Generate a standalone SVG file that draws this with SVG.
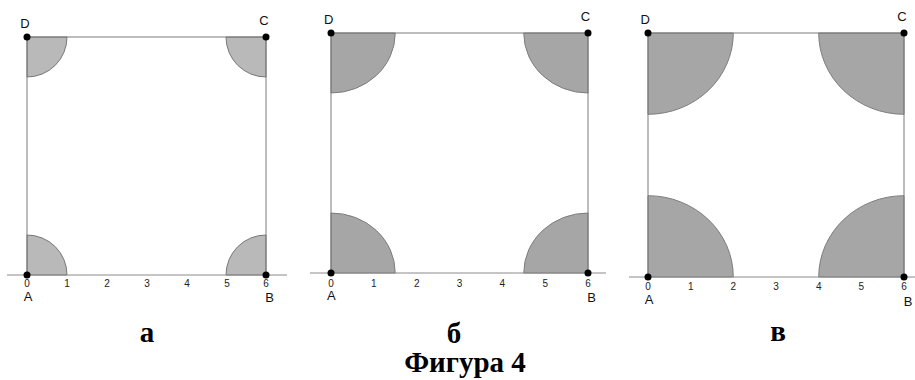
<svg xmlns="http://www.w3.org/2000/svg" width="915" height="380" viewBox="0 0 915 380">
<style>
.bg{fill:#ffffff}
.side{fill:none;stroke:#7a7a7a;stroke-width:1}
.axis{fill:none;stroke:#8a8a8a;stroke-width:1}
.secA{fill:#b9b9b9;stroke:#777777;stroke-width:1}
.sec{fill:#a6a6a6;stroke:#7d7d7d;stroke-width:1}
.pt{fill:#000000}
.tick{font-family:"Liberation Sans",Arial,sans-serif;font-size:10px;fill:#222;text-anchor:middle}
.lbl{font-family:"Liberation Sans",Arial,sans-serif;font-size:13px;fill:#111;text-anchor:middle}
.cap{font-family:"Liberation Serif","Times New Roman",serif;font-weight:bold;font-size:29px;fill:#000;text-anchor:middle}
</style>
<rect class="bg" x="0" y="0" width="915" height="380"/>

<g id="fig-a">
  <path class="secA" d="M27,37 L67,37 A40,40 0 0 1 27,77 Z"/>
  <path class="secA" d="M266,37 L266,77 A40,40 0 0 1 226,37 Z"/>
  <path class="secA" d="M27,275 L27,235 A40,40 0 0 1 67,275 Z"/>
  <path class="secA" d="M266,275 L226,275 A40,40 0 0 1 266,235 Z"/>
  <line class="side" x1="27" y1="37" x2="266" y2="37"/>
  <line class="side" x1="27" y1="37" x2="27" y2="275"/>
  <line class="side" x1="266" y1="37" x2="266" y2="275"/>
  <line class="axis" x1="7" y1="275" x2="287" y2="275"/>
  <circle class="pt" cx="27" cy="37" r="3.5"/>
  <circle class="pt" cx="266" cy="37" r="3.5"/>
  <circle class="pt" cx="27" cy="275" r="3.5"/>
  <circle class="pt" cx="266" cy="275" r="3.5"/>
  <text class="tick" x="27" y="287">0</text>
  <text class="tick" x="67" y="287">1</text>
  <text class="tick" x="107" y="287">2</text>
  <text class="tick" x="147" y="287">3</text>
  <text class="tick" x="187" y="287">4</text>
  <text class="tick" x="227" y="287">5</text>
  <text class="tick" x="266" y="287">6</text>
  <text class="lbl" x="28" y="301">A</text>
  <text class="lbl" x="269.5" y="302">B</text>
  <text class="lbl" x="264" y="25">C</text>
  <text class="lbl" x="25" y="28">D</text>
</g>

<g id="fig-b">
  <path class="sec" d="M331,33 L395.25,33 A64.25,60 0 0 1 331,93 Z"/>
  <path class="sec" d="M588,33 L588,93 A64.25,60 0 0 1 523.75,33 Z"/>
  <path class="sec" d="M331,273 L331,213 A64.25,60 0 0 1 395.25,273 Z"/>
  <path class="sec" d="M588,273 L523.75,273 A64.25,60 0 0 1 588,213 Z"/>
  <line class="side" x1="331" y1="33" x2="588" y2="33"/>
  <line class="side" x1="331" y1="33" x2="331" y2="273"/>
  <line class="side" x1="588" y1="33" x2="588" y2="273"/>
  <line class="axis" x1="310" y1="273" x2="606" y2="273"/>
  <circle class="pt" cx="331" cy="33" r="3.5"/>
  <circle class="pt" cx="588" cy="33" r="3.5"/>
  <circle class="pt" cx="331" cy="273" r="3.5"/>
  <circle class="pt" cx="588" cy="273" r="3.5"/>
  <text class="tick" x="331" y="287">0</text>
  <text class="tick" x="373.8" y="287">1</text>
  <text class="tick" x="416.7" y="287">2</text>
  <text class="tick" x="459.5" y="287">3</text>
  <text class="tick" x="502.3" y="287">4</text>
  <text class="tick" x="545.2" y="287">5</text>
  <text class="tick" x="588" y="287">6</text>
  <text class="lbl" x="331.3" y="300">A</text>
  <text class="lbl" x="591.7" y="302">B</text>
  <text class="lbl" x="585.5" y="21">C</text>
  <text class="lbl" x="328.7" y="24">D</text>
</g>

<g id="fig-c">
  <path class="sec" d="M648,33 L733.3,33 A85.3,81.3 0 0 1 648,114.3 Z"/>
  <path class="sec" d="M904,33 L904,114.3 A85.3,81.3 0 0 1 818.7,33 Z"/>
  <path class="sec" d="M648,277 L648,195.7 A85.3,81.3 0 0 1 733.3,277 Z"/>
  <path class="sec" d="M904,277 L818.7,277 A85.3,81.3 0 0 1 904,195.7 Z"/>
  <line class="side" x1="648" y1="33" x2="904" y2="33"/>
  <line class="side" x1="648" y1="33" x2="648" y2="277"/>
  <line class="side" x1="904" y1="33" x2="904" y2="277"/>
  <line class="axis" x1="629" y1="277" x2="915" y2="277"/>
  <circle class="pt" cx="648" cy="33" r="3.5"/>
  <circle class="pt" cx="904" cy="33" r="3.5"/>
  <circle class="pt" cx="648" cy="277" r="3.5"/>
  <circle class="pt" cx="904" cy="277" r="3.5"/>
  <text class="tick" x="648" y="290">0</text>
  <text class="tick" x="690.7" y="290">1</text>
  <text class="tick" x="733.3" y="290">2</text>
  <text class="tick" x="776" y="290">3</text>
  <text class="tick" x="818.7" y="290">4</text>
  <text class="tick" x="861.3" y="290">5</text>
  <text class="tick" x="904" y="290">6</text>
  <text class="lbl" x="649" y="304">A</text>
  <text class="lbl" x="908" y="306">B</text>
  <text class="lbl" x="902" y="21">C</text>
  <text class="lbl" x="645.3" y="24">D</text>
</g>

<g id="captions">
  <text class="cap" x="147" y="342">а</text>
  <text class="cap" x="454" y="343">б</text>
  <text class="cap" x="778" y="341">в</text>
  <text class="cap" x="465" y="372" font-size="28.5">Фигура 4</text>
</g>
</svg>
